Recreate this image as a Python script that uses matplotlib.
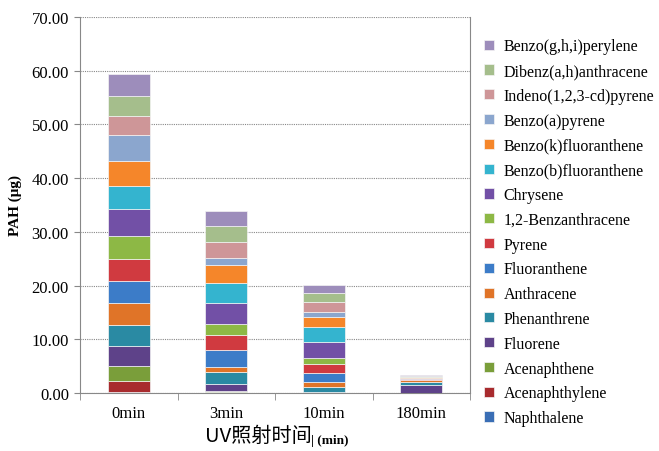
import matplotlib.pyplot as plt
import numpy as np

# PAH amounts (ug) per compound, bottom to top of the stack
compounds = [
    "Naphthalene", "Acenaphthylene", "Acenaphthene", "Fluorene",
    "Phenanthrene", "Anthracene", "Fluoranthene", "Pyrene",
    "1,2-Benzanthracene", "Chrysene", "Benzo(b)fluoranthene",
    "Benzo(k)fluoranthene", "Benzo(a)pyrene", "Indeno(1,2,3-cd)pyrene",
    "Dibenz(a,h)anthracene", "Benzo(g,h,i)perylene",
]
times = ["0min", "3min", "10min", "180min"]

min0 = [0.1, 2.2, 2.8, 3.6, 3.9, 4.1, 4.1, 4.2, 4.2, 5.0, 4.4, 4.5, 5.0, 3.4, 3.7, 4.2]
min3 = [0.1, 0.1, 0.1, 1.3, 2.3, 1.0, 3.1, 2.75, 2.05, 3.9, 3.85, 3.3, 1.2, 3.1, 3.0, 2.7]
min10 = [0.0, 0.0, 0.0, 0.1, 1.0, 0.95, 1.7, 1.6, 1.25, 2.9, 2.7, 2.0, 0.95, 1.7, 1.75, 1.45]
min180 = [0.0, 0.0, 0.0, 1.55, 0.45, 0.45, 0.05, 0.05, 0.05, 0.1, 0.1, 0.1, 0.05, 0.1, 0.15, 0.1]

colors = [
    "#3A6EB5", "#A82B2E", "#7A9E3A", "#5E4289", "#2A8AA3", "#E07428",
    "#3C7CC8", "#D03A40", "#8DB845", "#7250A6", "#34B4CF", "#F5862A",
    "#8BA6CE", "#CE9698", "#A5BE8C", "#9D8DBB",
]

data = np.array([min0, min3, min10, min180]).T  # rows: compounds

fig = plt.figure(figsize=(6.59, 4.52), dpi=100)
ax = fig.add_axes([80 / 659, 1 - 394 / 452, 390 / 659, 376 / 452])

x = np.arange(len(times))
bottom = np.zeros(len(times))
handles = []
for i, name in enumerate(compounds):
    b = ax.bar(x, data[i], 0.43, bottom=bottom, color=colors[i],
               edgecolor="#f4f4f4", linewidth=0.5, label=name, zorder=3)
    handles.append(b)
    bottom += data[i]

ax.set_xlim(-0.5, 3.5)
ax.set_ylim(0, 70)
ax.set_yticks(np.arange(0, 71, 10))
ax.set_yticklabels([f"{v:.2f}" for v in range(0, 71, 10)],
                   family="Liberation Serif", fontsize=12)
ax.set_xticks(x)
ax.set_xticklabels(times, family="Liberation Serif", fontsize=12)
ax.tick_params(axis="x", which="major", length=0, pad=9)
ax.set_xticks(np.arange(-0.5, 4, 1), minor=True)
ax.tick_params(axis="x", which="minor", length=5, color="#888888")
ax.tick_params(axis="y", length=4, color="#888888", pad=4)
ax.yaxis.grid(True, linestyle=(0, (1, 1)), color="#888888", linewidth=0.8, zorder=0)
for s in ["left", "bottom", "right"]:
    ax.spines[s].set_color("#888888")
ax.spines["top"].set_visible(False)

ax.set_ylabel("PAH (μg)", family="Liberation Serif", fontweight="bold",
              fontsize=11, labelpad=7)

fig.text(205 / 659, 1 - 436 / 452, "UV照射时间", family=["Noto Sans CJK SC", "DejaVu Sans"],
         fontsize=14.5, va="center", ha="left")
fig.text(311 / 659, 1 - 441 / 452, "| (min)", family="Liberation Serif",
         fontweight="bold", fontsize=9.5, va="center", ha="left")

fig.legend(handles[::-1], compounds[::-1], loc="upper left",
           bbox_to_anchor=(478 / 659, 1 - 33 / 452), frameon=False,
           prop={"family": "Liberation Serif", "size": 11.5},
           handlelength=0.6, handleheight=0.6, handletextpad=0.6,
           labelspacing=0.55, borderaxespad=0)

fig.savefig("out.png", dpi=100)
